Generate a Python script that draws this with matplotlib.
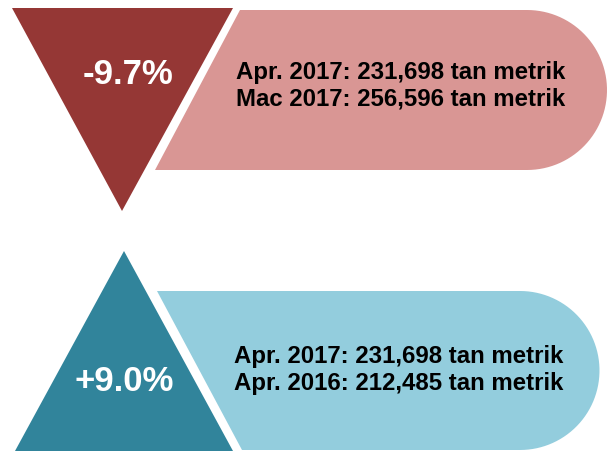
import numpy as np
import matplotlib
matplotlib.use("Agg")
import matplotlib.pyplot as plt
from matplotlib.patches import Polygon

# ---- data ----
changes = ["-9.7%", "+9.0%"]
current_lines = ["Apr. 2017: 231,698 tan metrik", "Apr. 2017: 231,698 tan metrik"]
compare_lines = ["Mac 2017: 256,596 tan metrik", "Apr. 2016: 212,485 tan metrik"]
dark_colors = ["#953735", "#31849B"]
light_colors = ["#D99694", "#93CDDD"]

W, H = 607, 452
fig = plt.figure(figsize=(W / 100, H / 100), dpi=100)
ax = fig.add_axes([0, 0, 1, 1])
ax.set_xlim(0, W)
ax.set_ylim(H, 0)
ax.axis("off")

FONT = ["Liberation Sans", "DejaVu Sans"]
BIG = 25
SMALL = 17.3


def banner(x_top_left, x_bot_left, y_top, y_bot, x_flat, color):
    cy = (y_top + y_bot) / 2
    r = (y_bot - y_top) / 2
    ang = np.linspace(np.pi / 2, -np.pi / 2, 60)
    arc = np.column_stack([x_flat + r * np.cos(ang), cy - r * np.sin(ang)])
    pts = [(x_top_left, y_top)] + [tuple(p) for p in arc] + [(x_bot_left, y_bot)]
    ax.add_patch(Polygon(pts, closed=True, facecolor=color, edgecolor="none"))


# ---- top block (decrease) ----
ax.add_patch(Polygon([(12, 9), (233, 9), (122, 212)], closed=True,
                     facecolor=dark_colors[0], edgecolor="none"))
banner(240, 155, 11, 171, 527, light_colors[0])
ax.text(128, 75, changes[0], color="white", fontsize=BIG, fontweight="bold",
        ha="center", va="center", family=FONT)
ax.text(236, 72, current_lines[0], color="black", fontsize=SMALL, fontweight="bold",
        ha="left", va="center", family=FONT)
ax.text(236, 99, compare_lines[0], color="black", fontsize=SMALL, fontweight="bold",
        ha="left", va="center", family=FONT)

# ---- bottom block (increase) ----
ax.add_patch(Polygon([(124, 252), (233, 452), (15, 452)], closed=True,
                     facecolor=dark_colors[1], edgecolor="none"))
banner(157, 242, 292, 451, 520, light_colors[1])
ax.text(124, 382, changes[1], color="white", fontsize=BIG, fontweight="bold",
        ha="center", va="center", family=FONT)
ax.text(234, 357, current_lines[1], color="black", fontsize=SMALL, fontweight="bold",
        ha="left", va="center", family=FONT)
ax.text(234, 384, compare_lines[1], color="black", fontsize=SMALL, fontweight="bold",
        ha="left", va="center", family=FONT)

fig.savefig("out.png", dpi=100)
